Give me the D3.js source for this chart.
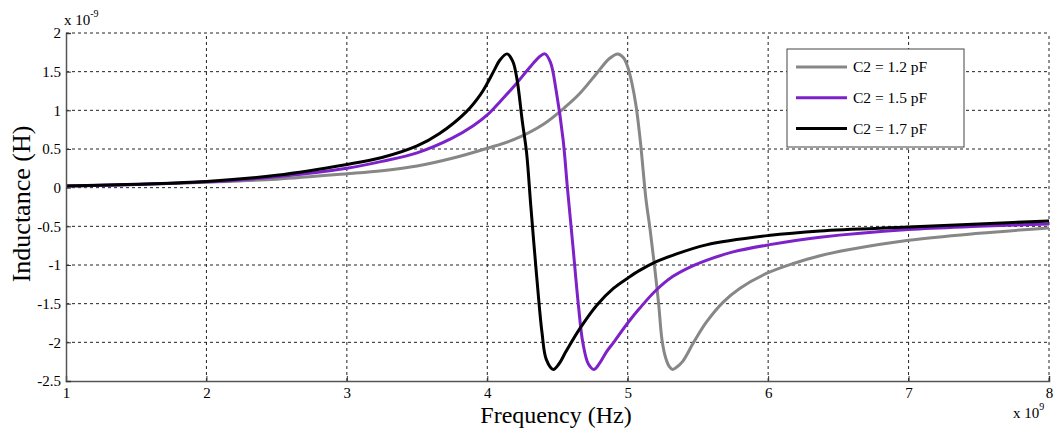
<!DOCTYPE html>
<html>
<head>
<meta charset="utf-8">
<script src="https://cdn.jsdelivr.net/npm/d3@7"></script>
<style>
  body { margin: 0; background: #fff; }
  svg, svg text { font-family: "Times New Roman", "Liberation Serif", Times, "DejaVu Serif", serif; }
</style>
</head>
<body>
<div id="chart"></div>
<script>
// frequency in units of 1e9 Hz, inductance in units of 1e-9 H
var xTicks = [1, 2, 3, 4, 5, 6, 7, 8];
var yTicks = [2, 1.5, 1, 0.5, 0, -0.5, -1, -1.5, -2, -2.5];
var seriesNames = ['C2 = 1.2 pF', 'C2 = 1.5 pF', 'C2 = 1.7 pF'];
var seriesColors = ['#878787', '#7d22c9', '#000000'];

var grayF = [1.0, 1.5, 2.0, 2.5, 3.0, 3.25, 3.5, 3.75, 4.0, 4.2, 4.4, 4.56, 4.66, 4.78, 4.87, 4.93, 4.97, 5.0, 5.03, 5.06, 5.09, 5.11, 5.13, 5.16, 5.19, 5.22, 5.245, 5.27, 5.295, 5.32, 5.35, 5.39, 5.47, 5.56, 5.68, 5.8, 6.0, 6.18, 6.37, 6.58, 7.0, 7.5, 8.0];
var grayL = [0.02, 0.04, 0.07, 0.11, 0.18, 0.22, 0.28, 0.38, 0.51, 0.63, 0.82, 1.05, 1.22, 1.48, 1.67, 1.73, 1.68, 1.56, 1.35, 1.05, 0.6, 0.22, -0.15, -0.55, -1.0, -1.5, -1.98, -2.2, -2.31, -2.35, -2.32, -2.25, -2.0, -1.74, -1.48, -1.3, -1.1, -0.98, -0.88, -0.8, -0.68, -0.59, -0.52];

var purpleF = [1.0, 1.5, 2.0, 2.5, 3.0, 3.25, 3.5, 3.75, 3.9, 4.0, 4.1, 4.2, 4.3, 4.37, 4.41, 4.45, 4.49, 4.54, 4.57, 4.61, 4.65, 4.68, 4.72, 4.76, 4.8, 4.85, 4.9, 5.0, 5.085, 5.2, 5.32, 5.44, 5.56, 5.75, 6.0, 6.37, 7.0, 7.5, 8.0];
var purpleL = [0.02, 0.04, 0.075, 0.14, 0.25, 0.34, 0.45, 0.64, 0.8, 0.94, 1.13, 1.33, 1.55, 1.69, 1.73, 1.62, 1.26, 0.62, 0.01, -0.76, -1.54, -2.0, -2.28, -2.35, -2.27, -2.12, -2.0, -1.75, -1.56, -1.33, -1.15, -1.03, -0.94, -0.83, -0.74, -0.64, -0.54, -0.5, -0.47];

var blackF = [1.0, 1.5, 2.0, 2.5, 3.0, 3.25, 3.5, 3.66, 3.85, 3.95, 4.0, 4.05, 4.09, 4.14, 4.18, 4.21, 4.25, 4.28, 4.31, 4.35, 4.39, 4.42, 4.47, 4.51, 4.56, 4.66, 4.78, 4.9, 5.0, 5.085, 5.2, 5.32, 5.56, 6.0, 6.37, 7.0, 7.5, 8.0];
var blackL = [0.02, 0.045, 0.08, 0.16, 0.3, 0.39, 0.54, 0.7, 0.98, 1.2, 1.35, 1.52, 1.65, 1.73, 1.64, 1.42, 0.85, 0.45, -0.24, -1.11, -1.88, -2.22, -2.35, -2.28, -2.12, -1.82, -1.52, -1.3, -1.17, -1.07, -0.96, -0.875, -0.74, -0.62, -0.56, -0.51, -0.47, -0.43];

var width = 1057, height = 431;
var margin = { top: 33, right: 8, bottom: 50, left: 66 };
var serif = '"Times New Roman", "Liberation Serif", Times, "DejaVu Serif", serif';

document.addEventListener('DOMContentLoaded', function() {
  var svg = d3.select('#chart').append('svg')
    .attr('width', width)
    .attr('height', height)
    .attr('font-family', serif);

  var x = d3.scaleLinear().domain([1, 8]).range([margin.left, width - margin.right]);
  var y = d3.scaleLinear().domain([-2.5, 2]).range([height - margin.bottom, margin.top]);

  // dashed grid
  var grid = svg.append('g').attr('class', 'grid');
  grid.selectAll('line.gx')
    .data(xTicks.slice(1))
    .enter().append('line')
    .attr('x1', d => x(d)).attr('x2', d => x(d))
    .attr('y1', y(-2.5)).attr('y2', y(2))
    .attr('stroke', '#222').attr('stroke-width', 1)
    .attr('stroke-dasharray', '3,3');
  grid.selectAll('line.gy')
    .data(yTicks.slice(0, -1))
    .enter().append('line')
    .attr('x1', x(1)).attr('x2', x(8))
    .attr('y1', d => y(d)).attr('y2', d => y(d))
    .attr('stroke', '#222').attr('stroke-width', 1)
    .attr('stroke-dasharray', '3,3');

  // curves
  var line = d3.line()
    .x(d => x(d[0]))
    .y(d => y(d[1]))
    .curve(d3.curveCatmullRom.alpha(0.5));

  var allSeries = [
    d3.zip(grayF, grayL),
    d3.zip(purpleF, purpleL),
    d3.zip(blackF, blackL)
  ];

  svg.append('g').selectAll('path')
    .data(allSeries)
    .enter().append('path')
    .attr('d', line)
    .attr('fill', 'none')
    .attr('stroke', (d, i) => seriesColors[i])
    .attr('stroke-width', 3)
    .attr('stroke-linejoin', 'round');

  // axes, matlab style ticks pointing inward
  var xAxis = svg.append('g')
    .attr('transform', `translate(0,${y(-2.5)})`)
    .call(d3.axisBottom(x).tickValues(xTicks).tickSize(-5).tickPadding(6).tickFormat(d3.format('d')));
  var yAxis = svg.append('g')
    .attr('transform', `translate(${x(1)},0)`)
    .call(d3.axisLeft(y).tickValues(yTicks).tickSize(-5).tickPadding(5).tickFormat(d => d));

  [xAxis, yAxis].forEach(function(a) {
    a.attr('font-family', serif).attr('font-size', 15);
    a.select('.domain').attr('stroke', '#555').attr('stroke-width', 1.5);
    a.selectAll('.tick line').attr('stroke', '#333');
    a.selectAll('.tick text').attr('fill', '#000');
  });

  // exponent labels
  var topExp = svg.append('text').attr('x', 64).attr('y', 25)
    .style('font-size', '15px');
  topExp.append('tspan').text('x 10');
  topExp.append('tspan').attr('dy', -8).style('font-size', '10px').text('-9');

  var botExp = svg.append('text').attr('x', 1013).attr('y', 418)
    .style('font-size', '15px');
  botExp.append('tspan').text('x 10');
  botExp.append('tspan').attr('dy', -8).style('font-size', '10px').text('9');

  // axis titles
  svg.append('text')
    .attr('x', 556)
    .attr('y', 423)
    .attr('text-anchor', 'middle')
    .style('font-size', '24px')
    .text('Frequency (Hz)');

  svg.append('text')
    .attr('transform', 'translate(30,204) rotate(-90)')
    .attr('text-anchor', 'middle')
    .style('font-size', '26px')
    .text('Inductance (H)');

  // legend
  var lg = svg.append('g').attr('transform', 'translate(787,49)');
  lg.append('rect')
    .attr('width', 177).attr('height', 98)
    .attr('fill', '#fff')
    .attr('stroke', '#444').attr('stroke-width', 1);
  var items = lg.selectAll('g.item')
    .data(seriesNames)
    .enter().append('g')
    .attr('transform', (d, i) => `translate(0,${18 + i * 30.8})`);
  items.append('line')
    .attr('x1', 9).attr('x2', 60)
    .attr('stroke', (d, i) => seriesColors[i])
    .attr('stroke-width', 3);
  items.append('text')
    .attr('x', 66).attr('y', 5)
    .style('font-size', '15.5px')
    .text(d => d);
});
</script>
</body>
</html>
